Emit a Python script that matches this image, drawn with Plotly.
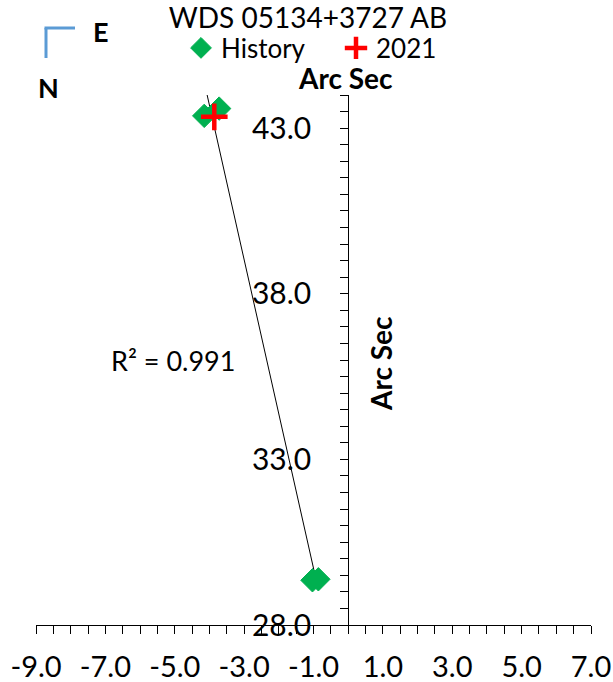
import numpy as np
import plotly.graph_objects as go

# ---- data ----
title_text = "WDS 05134+3727 AB"
history_x = [-4.15, -3.72, -1.03, -0.86]
history_y = [43.37, 43.59, 29.35, 29.38]
obs2021_x = [-3.86]
obs2021_y = [43.34]
r2_label = "R² = 0.991"
x_tickvals = [-9, -7, -5, -3, -1, 1, 3, 5, 7]
x_ticktext = ["-9.0", "-7.0", "-5.0", "-3.0", "-1.0", "1.0", "3.0", "5.0", "7.0"]
y_tickvals = [28, 33, 38, 43]
y_ticktext = ["28.0", "33.0", "38.0", "43.0"]
x_range = [-9, 7]
y_range = [28, 44]

# ---- layout geometry (pixels) ----
W, H = 613, 682
L, R, T, B = 36, 22, 95, 57
pw, ph = W - L - R, H - T - B

def px(x):
    return (x - L) / pw

def py(y):
    return (H - B - y) / ph

FONT = "Lato, 'Open Sans', sans-serif"

# trendline via least squares over history, from min x to max x
hx = np.array(history_x)
hy = np.array(history_y)
slope, icpt = np.polyfit(hx, hy, 1)
tx = np.linspace(hx.min(), hx.max(), 50)
ty = slope * tx + icpt

fig = go.Figure()
fig.add_trace(go.Scatter(x=tx, y=ty, mode="lines",
                         line=dict(color="black", width=1),
                         showlegend=False, hoverinfo="skip"))
fig.add_trace(go.Scatter(x=history_x, y=history_y, mode="markers", name="History",
                         marker=dict(symbol="diamond", size=18, color="#00B050",
                                     line=dict(color="#00B050", width=1))))
fig.add_trace(go.Scatter(x=obs2021_x, y=obs2021_y, mode="markers", name="2021",
                         marker=dict(symbol="cross-thin", size=19,
                                     line=dict(color="#FF0000", width=4.5),
                                     color="#FF0000")))

fig.update_layout(
    width=W, height=H,
    margin=dict(l=L, r=R, t=T, b=B, autoexpand=False),
    paper_bgcolor="white", plot_bgcolor="white",
    font=dict(family=FONT, color="black"),
    title=dict(text=title_text, x=px(308), xref="paper", xanchor="center",
               y=1 - 18 / H, yanchor="middle",
               font=dict(size=28, family=FONT, color="black")),
    legend=dict(orientation="h", x=px(336), xanchor="center",
                y=py(48), yanchor="middle",
                font=dict(size=26, family=FONT), itemwidth=30,
                entrywidth=110, entrywidthmode="pixels",
                bgcolor="rgba(0,0,0,0)"),
    xaxis=dict(range=x_range, tickvals=x_tickvals, ticktext=x_ticktext,
               showgrid=False, zeroline=False, showline=True,
               linecolor="black", linewidth=1,
               ticks="outside", ticklen=8, tickcolor="black",
               minor=dict(dtick=0.5, tick0=-9, ticks="outside", ticklen=8,
                          tickcolor="black", showgrid=False),
               tickfont=dict(size=29, family=FONT), ticklabelstandoff=8,
               ticklabeloverflow="allow"),
    yaxis=dict(range=y_range, tickvals=y_tickvals, ticktext=y_ticktext,
               showgrid=False, zeroline=False, showline=True,
               linecolor="black", linewidth=1,
               anchor="free", position=(0 - x_range[0]) / (x_range[1] - x_range[0]),
               ticks="outside", ticklen=8, tickcolor="black",
               minor=dict(dtick=0.5, tick0=28, ticks="outside", ticklen=8,
                          tickcolor="black", showgrid=False),
               tickfont=dict(size=30, family=FONT), ticklabelstandoff=23,
               ticklabeloverflow="allow"),
)

ann = []
ann.append(dict(x=px(345), y=py(78), xref="paper", yref="paper", text="<b>Arc Sec</b>",
                xanchor="center", yanchor="middle",
                showarrow=False, font=dict(size=28, family=FONT)))
ann.append(dict(x=px(381), y=py(364), xref="paper", yref="paper", text="<b>Arc Sec</b>",
                xanchor="center", yanchor="middle",
                showarrow=False, textangle=-90, font=dict(size=28, family=FONT)))
ann.append(dict(x=px(101), y=py(32), xref="paper", yref="paper", text="<b>E</b>",
                xanchor="center", yanchor="middle",
                showarrow=False, font=dict(size=27, family=FONT)))
ann.append(dict(x=px(48), y=py(88), xref="paper", yref="paper", text="<b>N</b>",
                xanchor="center", yanchor="middle",
                showarrow=False, font=dict(size=27, family=FONT)))
ann.append(dict(x=(173 - L) / pw * (x_range[1] - x_range[0]) + x_range[0],
                y=y_range[0] + (H - B - 360) / ph * (y_range[1] - y_range[0]),
                xref="x", yref="y", text=r2_label, showarrow=False,
                xanchor="center", yanchor="middle",
                font=dict(size=27, family=FONT)))
fig.update_layout(annotations=ann)

fig.add_shape(type="line", xref="paper", yref="paper",
              x0=px(46), y0=py(58), x1=px(46), y1=py(28),
              line=dict(color="#5B9BD5", width=3))
fig.add_shape(type="line", xref="paper", yref="paper",
              x0=px(44.5), y0=py(28), x1=px(75), y1=py(28),
              line=dict(color="#5B9BD5", width=3))

fig.write_html("out.html")
